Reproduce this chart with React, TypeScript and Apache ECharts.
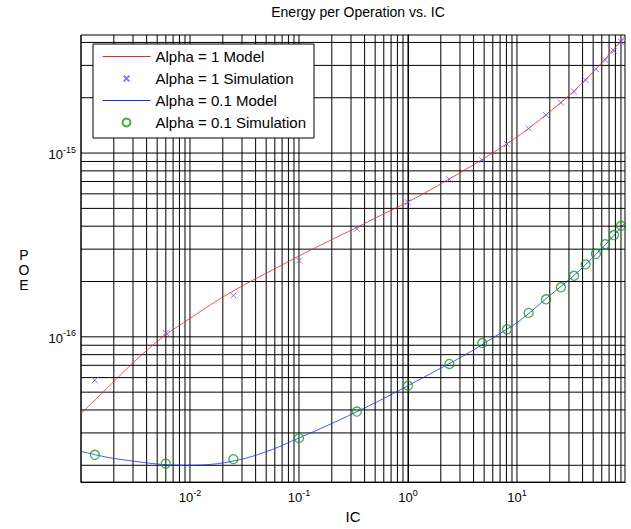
import React, { useEffect, useRef } from 'react';
import * as echarts from 'echarts';

const chartTitle = 'Energy per Operation vs. IC';
const xName = 'IC';
const yName = 'P\nO\nE';
const seriesNames = ['Alpha = 1 Model', 'Alpha = 1 Simulation', 'Alpha = 0.1 Model', 'Alpha = 0.1 Simulation'];

// Model curves (IC, POE)
const modelIC = [0.001, 0.00175, 0.00313, 0.0056, 0.01, 0.0179, 0.032, 0.0571, 0.102, 0.182, 0.327, 0.583, 1.04, 1.87, 3.33, 5.96, 10.7, 19.1, 34.0, 60.8, 98];
const modelAlpha1 = [3.82e-17, 5.28e-17, 7.39e-17, 9.96e-17, 1.26e-16, 1.58e-16, 1.93e-16, 2.31e-16, 2.77e-16, 3.29e-16, 3.9e-16, 4.63e-16, 5.48e-16, 6.64e-16, 8.1e-16, 1.0e-15, 1.26e-15, 1.64e-15, 2.2e-15, 3.13e-15, 4.33e-15];
const modelAlpha01 = [2.38e-17, 2.21e-17, 2.1e-17, 2.02e-17, 2.0e-17, 2.04e-17, 2.18e-17, 2.44e-17, 2.83e-17, 3.29e-17, 3.87e-17, 4.58e-17, 5.49e-17, 6.61e-17, 7.96e-17, 9.84e-17, 1.23e-16, 1.64e-16, 2.18e-16, 3.05e-16, 4.17e-16];

// Simulation points
const simIC = [0.00134, 0.006, 0.025, 0.1, 0.34, 1, 2.4, 4.8, 8.1, 12.8, 18.5, 25.3, 33.4, 42.7, 53, 64.6, 77.6, 90];
const simAlpha1 = [5.81e-17, 1.05e-16, 1.68e-16, 2.6e-16, 3.87e-16, 5.4e-16, 7.18e-16, 9.16e-16, 1.12e-15, 1.36e-15, 1.61e-15, 1.88e-15, 2.16e-15, 2.49e-15, 2.86e-15, 3.21e-15, 3.6e-15, 4.03e-15];
const simAlpha01 = [2.28e-17, 2.04e-17, 2.16e-17, 2.81e-17, 3.92e-17, 5.42e-17, 7.12e-17, 9.25e-17, 1.1e-16, 1.35e-16, 1.6e-16, 1.86e-16, 2.15e-16, 2.48e-16, 2.83e-16, 3.19e-16, 3.58e-16, 4.02e-16];

const xLimits = [0.001, 98];
const yLimits = [1.62e-17, 4.39e-15];
const xTickExponents = [-2, -1, 0, 1];
const yTickExponents = [-16, -15];
const gridMantissas = [1, 2, 3, 4, 5, 6, 7, 8, 9];
const xGridDecades = [-3, -2, -1, 0, 1];
const yGridDecades = [-17, -16, -15];

const FONT = "'Liberation Sans', Arial, Helvetica, sans-serif";
const CROSS = 'path://M0,0L10,10M10,0L0,10';
const CROSS_LEGEND = 'path://M-2,-2M0,0L10,10M10,0L0,10M12,12';

const lg = (v: number) => Math.log10(v);

export default function App() {
  const ref = useRef<HTMLDivElement>(null);
  useEffect(() => {
    if (!ref.current) return;
    const chart = echarts.init(ref.current, null, { renderer: 'svg' });
    const xMin = lg(xLimits[0]);
    const xMax = lg(xLimits[1]);
    const yMin = lg(yLimits[0]);
    const yMax = lg(yLimits[1]);
    const xGrid: number[] = [];
    xGridDecades.forEach((d) => gridMantissas.forEach((m) => {
      const v = d + lg(m);
      if (v >= xMin - 1e-9 && v <= xMax) xGrid.push(v);
    }));
    const yGrid: number[] = [];
    yGridDecades.forEach((d) => gridMantissas.forEach((m) => {
      const v = d + lg(m);
      if (v >= yMin && v <= yMax) yGrid.push(v);
    }));
    const pair = (xs: number[], ys: number[]) => xs.map((x, i) => [lg(x), lg(ys[i])]);
    const rich = {
      b: { fontSize: 13, fontFamily: FONT, color: '#000', verticalAlign: 'bottom' },
      s: { fontSize: 9, fontFamily: FONT, color: '#000', verticalAlign: 'bottom', padding: [0, 0, 7, 0] },
    };
    const fmt = (v: number) => `{b|10}{s|${Math.round(v)}}`;
    const gridLineStyle = { stroke: '#000', lineWidth: 1 };
    const option: any = {
      animation: false,
      backgroundColor: '#fff',
      title: {
        text: chartTitle,
        left: 353,
        top: 0,
        textAlign: 'center',
        textStyle: { fontSize: 14, fontWeight: 'normal', fontFamily: FONT, color: '#000' },
      },
      graphic: [
        {
          type: 'text',
          x: 24,
          y: 270,
          style: {
            text: yName,
            fontSize: 14,
            fontFamily: FONT,
            fill: '#000',
            lineHeight: 15,
            align: 'center',
            verticalAlign: 'middle',
          },
        },
      ],
      grid: { left: 81, right: 6, top: 35, bottom: 44, show: true, borderColor: '#000', borderWidth: 1, backgroundColor: '#fff' },
      legend: {
        orient: 'vertical',
        left: 93,
        top: 44,
        itemWidth: 48,
        itemHeight: 8,
        itemGap: 7,
        padding: [5, 8, 8, 9],
        backgroundColor: '#fff',
        borderColor: '#000',
        borderWidth: 1,
        lineStyle: { width: 1 },
        textStyle: { fontSize: 15, fontFamily: FONT, color: '#000' },
        data: [
          { name: seriesNames[0], itemStyle: { opacity: 0 } },
          { name: seriesNames[1], icon: CROSS_LEGEND },
          { name: seriesNames[2], itemStyle: { opacity: 0 } },
          { name: seriesNames[3] },
        ],
      },
      xAxis: {
        type: 'value',
        min: xMin,
        max: xMax,
        name: xName,
        nameLocation: 'middle',
        nameGap: 26,
        nameTextStyle: { fontSize: 15, fontFamily: FONT, color: '#000' },
        axisLine: { show: true, lineStyle: { color: '#000', width: 1 } },
        axisTick: { show: false },
        splitLine: { show: false },
        axisLabel: { customValues: xTickExponents, formatter: fmt, rich, margin: 6 },
      },
      yAxis: {
        type: 'value',
        min: yMin,
        max: yMax,
        axisLine: { show: true, lineStyle: { color: '#000', width: 1 } },
        axisTick: { show: false },
        splitLine: { show: false },
        axisLabel: { customValues: yTickExponents, formatter: fmt, rich, margin: 5 },
      },
      series: [
        {
          type: 'custom',
          silent: true,
          z: 1,
          data: xGrid.map((v) => [v, yMin]),
          encode: { x: 0, y: 1 },
          renderItem: (_p: any, api: any) => {
            const v = api.value(0);
            const a = api.coord([v, yMin]);
            const b = api.coord([v, yMax]);
            return { type: 'line', shape: { x1: a[0], y1: a[1], x2: b[0], y2: b[1] }, style: gridLineStyle };
          },
        },
        {
          type: 'custom',
          silent: true,
          z: 1,
          data: yGrid.map((v) => [xMin, v]),
          encode: { x: 0, y: 1 },
          renderItem: (_p: any, api: any) => {
            const v = api.value(1);
            const a = api.coord([xMin, v]);
            const b = api.coord([xMax, v]);
            return { type: 'line', shape: { x1: a[0], y1: a[1], x2: b[0], y2: b[1] }, style: gridLineStyle };
          },
        },
        {
          name: seriesNames[0],
          type: 'line',
          z: 3,
          data: pair(modelIC, modelAlpha1),
          smooth: 0.3,
          symbol: 'none',
          lineStyle: { color: '#ff2020', width: 0.8 },
          itemStyle: { color: '#ff2020' },
        },
        {
          name: seriesNames[1],
          type: 'scatter',
          z: 4,
          data: pair(simIC, simAlpha1),
          symbol: CROSS,
          symbolSize: 6,
          symbolKeepAspect: true,
          itemStyle: { color: 'rgba(0,0,0,0)', borderColor: '#5a5aff', borderWidth: 1 },
        },
        {
          name: seriesNames[2],
          type: 'line',
          z: 3,
          data: pair(modelIC, modelAlpha01),
          smooth: 0.3,
          symbol: 'none',
          lineStyle: { color: '#1030ff', width: 0.8 },
          itemStyle: { color: '#1030ff' },
        },
        {
          name: seriesNames[3],
          type: 'scatter',
          z: 4,
          data: pair(simIC, simAlpha01),
          symbol: 'circle',
          symbolSize: 9,
          itemStyle: { color: 'rgba(0,0,0,0)', borderColor: '#129a12', borderWidth: 1.3 },
        },
      ],
    };
    chart.setOption(option);
    return () => chart.dispose();
  }, []);
  return <div ref={ref} style={{ position: 'fixed', left: 0, top: 0, width: 631, height: 529 }} />;
}
